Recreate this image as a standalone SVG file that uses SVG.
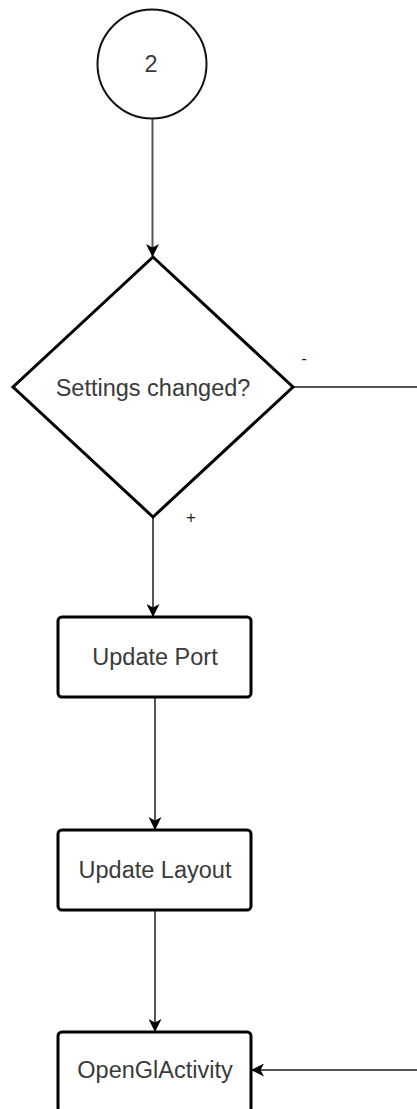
<svg xmlns="http://www.w3.org/2000/svg" width="417" height="1109" viewBox="0 0 417 1109">
  <style>
    .shape { fill: #ffffff; stroke: #000000; stroke-width: 3; }
    .label { font-family: "Liberation Sans", Arial, sans-serif; font-size: 23.5px; fill: #3a3a3a; text-anchor: middle; dominant-baseline: central; }
    .small { font-family: "Liberation Sans", Arial, sans-serif; font-size: 17px; fill: #222222; text-anchor: middle; dominant-baseline: central; }
    .edge { fill: none; stroke: #555555; stroke-width: 2; }
  </style>
  <defs>
    <marker id="arrow" viewBox="0 0 13 13" refX="12" refY="6.5" markerWidth="13" markerHeight="13" markerUnits="userSpaceOnUse" orient="auto">
      <path d="M0,0 L13,6.5 L0,13 L3.5,6.5 Z" fill="#000000"/>
    </marker>
  </defs>
  <rect width="417" height="1109" fill="#ffffff"/>

  <g id="connectors">
    <path class="edge" d="M152.5,119 L152.5,256" marker-end="url(#arrow)"/>
    <path class="edge" d="M153,518 L153,616" marker-end="url(#arrow)"/>
    <path class="edge" d="M155,698 L155,829" marker-end="url(#arrow)"/>
    <path class="edge" d="M155,911 L155,1031" marker-end="url(#arrow)"/>
    <path class="edge" d="M294,387 L417,387"/>
    <path class="edge" d="M417,1070 L252,1070" marker-end="url(#arrow)"/>
    <text class="small" x="304" y="358">-</text>
    <text class="small" x="191" y="517">+</text>
  </g>

  <g id="node-start">
    <circle cx="152" cy="64" r="54.5" fill="#ffffff" stroke="#111111" stroke-width="2"/>
    <text class="label" x="151" y="64">2</text>
  </g>

  <g id="node-settings-changed">
    <polygon class="shape" points="153,257 293,387 153,517 13,387"/>
    <text class="label" x="153" y="388">Settings changed?</text>
  </g>

  <g id="node-update-port">
    <rect class="shape" x="58" y="617" width="193" height="80" rx="4"/>
    <text class="label" x="155" y="657">Update Port</text>
  </g>

  <g id="node-update-layout">
    <rect class="shape" x="58" y="830" width="193" height="80" rx="4"/>
    <text class="label" x="155" y="870">Update Layout</text>
  </g>

  <g id="node-opengl-activity">
    <rect class="shape" x="58" y="1032" width="193" height="80" rx="4"/>
    <text class="label" x="155" y="1070">OpenGlActivity</text>
  </g>
</svg>
